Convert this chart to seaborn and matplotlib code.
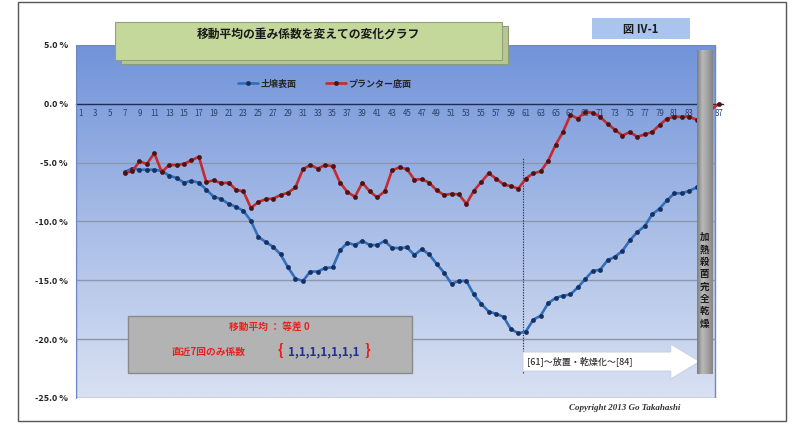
import numpy as np
import pandas as pd
import matplotlib
matplotlib.use("Agg")
import matplotlib.pyplot as plt
from matplotlib.patches import Rectangle, FancyArrow
import seaborn as sns

# ---- data -------------------------------------------------------------
steps = list(range(1, 88))
nan = np.nan
soil_surface = [nan] * 6 + [
    -5.8, -5.5, -5.6, -5.6, -5.6, -5.7, -6.1, -6.3, -6.7, -6.55,
    -6.7, -7.3, -7.9, -8.1, -8.5, -8.75, -9.1, -9.95, -11.3, -11.75,
    -12.15, -12.8, -13.9, -14.85, -15.05, -14.25, -14.25, -13.95, -13.9, -12.45,
    -11.8, -12.0, -11.65, -12.0, -12.0, -11.65, -12.25, -12.25, -12.2, -12.85,
    -12.35, -12.8, -13.6, -14.35, -15.3, -15.05, -15.05, -16.2, -17.0, -17.65,
    -17.85, -18.1, -19.15, -19.5, -19.35, -18.35, -18.0, -16.95, -16.5, -16.3,
    -16.2, -15.6, -14.9, -14.2, -14.1, -13.3, -13.0, -12.5, -11.6, -10.9,
    -10.4, -9.4, -8.9, -8.2, -7.6, -7.6, -7.4, -7.1,
] + [nan] * 3
planter_bottom = [nan] * 6 + [
    -5.85, -5.75, -4.9, -5.1, -4.2, -5.8, -5.2, -5.2, -5.1, -4.8,
    -4.5, -6.65, -6.5, -6.75, -6.7, -7.3, -7.45, -8.85, -8.35, -8.1,
    -8.05, -7.75, -7.55, -7.1, -5.55, -5.2, -5.5, -5.2, -5.3, -6.7,
    -7.5, -7.9, -6.7, -7.45, -7.95, -7.45, -5.65, -5.4, -5.55, -6.45,
    -6.4, -6.7, -7.35, -7.75, -7.65, -7.7, -8.5, -7.4, -6.65, -5.9,
    -6.35, -6.85, -7.0, -7.2, -6.35, -5.9, -5.75, -4.85, -3.5, -2.4,
    -0.95, -1.25, -0.7, -0.75, -1.1, -1.7, -2.2, -2.7, -2.4, -2.8,
    -2.6, -2.4, -1.8, -1.25, -1.1, -1.1, -1.1, -1.35,
] + [nan, nan, 0.0]
series_names = ["土壌表面", "プランター底面"]
y_ticks = [5, 0, -5, -10, -15, -20, -25]

df = pd.DataFrame({
    "step": steps * 2,
    "value": soil_surface + planter_bottom,
    "series": [series_names[0]] * len(steps) + [series_names[1]] * len(steps),
})

# ---- style ------------------------------------------------------------
sns.set_style("white")
plt.rcParams["font.family"] = ["Noto Sans CJK JP", "DejaVu Sans"]

W, H = 792, 424
fig = plt.figure(figsize=(W / 100, H / 100), dpi=100)
fig.patch.set_facecolor("white")


def fx(x):
    return x / W


def fy(y):
    return 1 - y / H


ax = fig.add_axes([fx(76.3), fy(398), fx(722.7) - fx(76.3), fy(45) - fy(398)])
ax.set_xlim(0.5, 87.5)
ax.set_ylim(-25, 5)
ax.patch.set_visible(False)

panel_right = 86.4
# blue gradient plot panel
grad = np.linspace(0, 1, 256).reshape(-1, 1)
cmap = matplotlib.colors.LinearSegmentedColormap.from_list(
    "panel", ["#7193da", "#a7bce6", "#d9e1f3"])
ax.imshow(grad, cmap=cmap, aspect="auto", extent=[0.5, panel_right, -25, 5],
          origin="upper", zorder=0)
ax.add_patch(Rectangle((0.5, -25), panel_right - 0.5, 30, fill=False,
                       edgecolor="#6f88c2", lw=1.0, zorder=1))
ax.hlines([-5, -10, -15, -20], 0.5, panel_right, color="#8d96ab", lw=1.0, zorder=1)

# series
palette = {series_names[0]: "#2f6fbd", series_names[1]: "#c42a2e"}
face = {series_names[0]: "#17305e", series_names[1]: "#4a1416"}
handles = []
for name in series_names:
    sub = df[df["series"] == name]
    sns.lineplot(data=sub, x="step", y="value", ax=ax, color=palette[name],
                 lw=1.9, marker="o", markersize=3.0, markerfacecolor=face[name],
                 markeredgecolor=face[name], markeredgewidth=0.4,
                 legend=False, zorder=3)
    handles.append(ax.lines[-1])

ax.set_xlabel("")
ax.set_ylabel("")

# axes: category axis crossing at 0
for s in ["top", "right"]:
    ax.spines[s].set_visible(False)
ax.spines["bottom"].set_position(("data", 0))
ax.spines["bottom"].set_color("#1f2f52")
ax.spines["bottom"].set_linewidth(1.0)
ax.spines["bottom"].set_zorder(2)
ax.spines["left"].set_color("#6f88c2")
ax.set_xticks(steps)
ax.set_xticklabels([str(n) if n % 2 == 1 else "" for n in steps])
ax.tick_params(axis="x", direction="out", length=3, width=0.8, color="#1f2f52",
               labelsize=5.7, labelcolor="#2b3f6b", pad=1)
ax.set_yticks(y_ticks)
ax.set_yticklabels([f"{v:.1f} %" for v in y_ticks], fontweight="bold")
ax.tick_params(axis="y", direction="out", length=4, width=0.8, color="#7a7a7a",
               labelsize=6.5, labelcolor="#222222", pad=2)

# legend
ax.legend(handles, series_names, loc="center", bbox_to_anchor=(fx(325), fy(84)),
          bbox_transform=fig.transFigure, ncol=2, frameon=False,
          prop={"weight": "bold", "size": 6.5}, handlelength=2.2,
          columnspacing=3.2, handletextpad=0.3)

# divider at the start of the drying period
ax.vlines(60.6, -22.9, -4.6, color="#333333", lw=0.8, linestyles=(0, (1.2, 1.2)),
          zorder=2)
ax.add_patch(FancyArrow(60.6, -21.9, 23.8 - 3.9, 0, width=1.62, head_width=2.98,
                        head_length=3.9, length_includes_head=False,
                        facecolor="white", edgecolor="#c9d2e6", lw=0.8, zorder=4))
ax.text(61.2, -21.9, "[61]〜放置・乾燥化〜[84]", fontsize=6.5, fontweight="medium",
        color="#333333", va="center", ha="left", zorder=5)

# vertical bar marking heat sterilisation
bar_cmap = matplotlib.colors.LinearSegmentedColormap.from_list(
    "bar", ["#7e7e7e", "#b9b9b9", "#a3a3a3", "#858585"])
bar_grad = np.linspace(0, 1, 32).reshape(1, -1)
ax.imshow(bar_grad, cmap=bar_cmap, aspect="auto",
          extent=[84.0, 86.15, -22.96, 4.5], zorder=5)
ax.text(85.07, -15.0, "\n".join("加熱殺菌完全乾燥"), fontsize=6.8, fontweight="bold",
        ha="center", va="center", linespacing=1.3, color="#1a1a1a", zorder=6)

# ---- figure-level decorations ----------------------------------------
def px_rect(x0, y0, x1, y1, **kw):
    r = Rectangle((fx(x0), fy(y1)), fx(x1) - fx(x0), fy(y0) - fy(y1),
                  transform=fig.transFigure, **kw)
    fig.add_artist(r)
    return r


# outer frame
px_rect(18, 2, 786, 421, fill=False, edgecolor="#555555", lw=1.0, zorder=1)

# title box with offset shadow
px_rect(121, 26, 508, 64, facecolor="#b6c78f", edgecolor="#8e9a78", lw=0.8, zorder=6)
px_rect(115, 22, 502, 60, facecolor="#c4d89c", edgecolor="#93a07e", lw=0.8, zorder=7)
fig.text(fx(308), fy(34), "移動平均の重み係数を変えての変化グラフ", fontsize=8.5,
         fontweight="bold", ha="center", va="center", color="#1a1a1a", zorder=8)

# figure number
px_rect(592, 18, 690, 39, facecolor="#a9c4ee", edgecolor="none", zorder=6)
fig.text(fx(641), fy(29), "図 Ⅳ-1", fontsize=8, fontweight="bold",
         ha="center", va="center", color="#1a1a1a", zorder=8)

# annotation box
px_rect(128, 316, 412, 373, facecolor="#b3b3b3", edgecolor="#8a8a8a", lw=1.0, zorder=6)
fig.text(fx(269), fy(327), "移動平均 ： 等差 0", fontsize=7, fontweight="bold",
         color="#e3231f", ha="center", va="center", zorder=8)
fig.text(fx(172), fy(352), "直近7回のみ係数", fontsize=7, fontweight="bold",
         color="#e3231f", ha="left", va="center", zorder=8)
fig.text(fx(280), fy(351), "{", fontsize=11, fontweight="bold",
         color="#e3231f", ha="center", va="center", zorder=8)
fig.text(fx(288), fy(352), "1,1,1,1,1,1,1", fontsize=8.5, fontweight="bold",
         color="#1f2f9e", ha="left", va="center", zorder=8)
fig.text(fx(367), fy(351), "}", fontsize=11, fontweight="bold",
         color="#e3231f", ha="center", va="center", zorder=8)

fig.text(fx(625), fy(408), "Copyright 2013 Go Takahashi", fontsize=6.5,
         family="Liberation Serif", style="italic", fontweight="bold",
         color="#333333", ha="center", va="center")

fig.savefig("out.png", dpi=100)
